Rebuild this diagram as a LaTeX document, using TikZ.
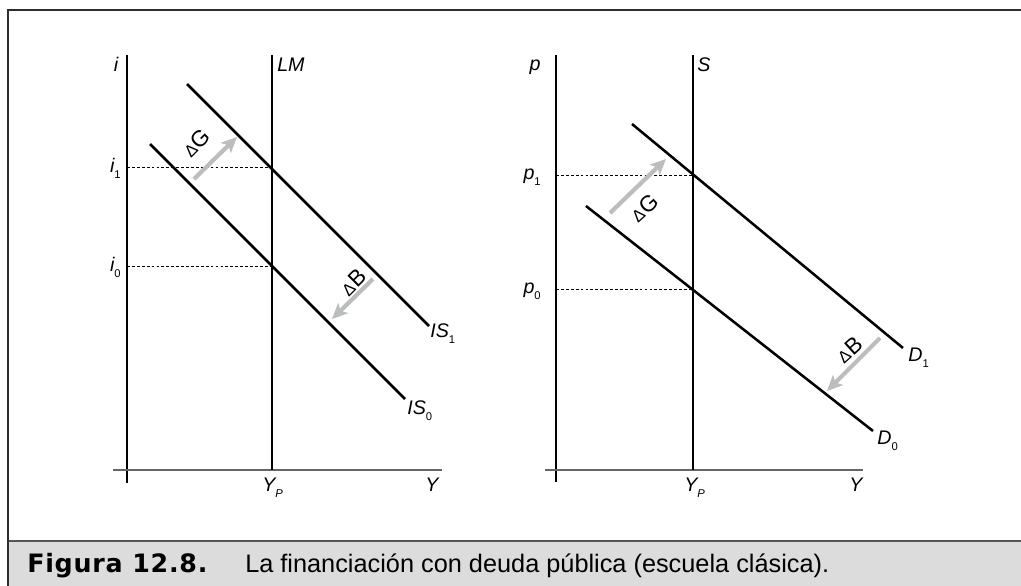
\documentclass[tikz,border=0pt]{standalone}
\usepackage{fontspec}
\setmainfont{Liberation Sans}
\newfontfamily\capbold[LetterSpace=3]{DejaVu Sans}
\usepackage{tikz}
\usetikzlibrary{positioning, arrows.meta}
\definecolor{frameLine}{HTML}{2E2E2E}
\definecolor{capFill}{HTML}{DCDCDD}
\definecolor{capLine}{HTML}{555555}
\definecolor{axisGray}{HTML}{666666}
\definecolor{shiftGray}{HTML}{BCBDBF}
\newcommand{\sbs}[1]{\raisebox{-0.6ex}{\fontsize{8}{8}\selectfont #1}}
\newcommand{\dlt}{{\fontsize{12}{12}\selectfont Δ}\kern0.5pt}

\begin{document}
\begin{tikzpicture}[x=0.025cm, y=-0.025cm, curve/.style={line width=1.8pt}, ax/.style={line width=0.9pt}, xax/.style={line width=1.5pt, color=axisGray}, guide/.style={line width=0.6pt, dash pattern=on 2pt off 1.5pt}, lbl/.style={font=\fontsize{14}{16}\selectfont\itshape, inner sep=0pt}, shiftarrow/.style={line width=3pt, color=shiftGray, -{Stealth[length=11pt, width=10pt, inset=2.5pt]}}, dlbl/.style={font=\fontsize{16}{18}\selectfont, inner sep=0pt}]
\useasboundingbox (0,0) rectangle (1021,586);
\fill[capFill] (8,541) rectangle (1030,595);
\draw[line width=1pt, color=capLine] (8,541) -- (1030,541);
\draw[line width=1.5pt, color=frameLine] (8,595) -- (8,10) -- (1030,10);
\node[anchor=base west, inner sep=0pt, font=\fontsize{18}{21}\selectfont\capbold\bfseries] (capnum) at (27,572) {Figura 12.8.};
\node[anchor=base west, inner sep=0pt, font=\fontsize{18}{21}\selectfont] (captxt) at (245,572) {La financiación con deuda pública (escuela clásica).};
% IS-LM
\coordinate (iTop) at (127,55); \coordinate (iBot) at (127,483);
\coordinate (yL) at (113,470); \coordinate (yR) at (442,470);
\coordinate (lmTop) at (272,55); \coordinate (lmBot) at (272,470);
\coordinate (isOneA) at (187,84); \coordinate (isOneB) at (429,326);
\coordinate (isZeroA) at (150,144); \coordinate (isZeroB) at (405,399);
\coordinate (iOneA) at (127,167); \coordinate (iOneB) at (272,167);
\coordinate (iZeroA) at (127,266); \coordinate (iZeroB) at (272,266);
\draw[ax] (iTop) -- (iBot);
\draw[xax] (yL) -- (yR);
\draw[line width=2.1pt] (lmTop) -- (lmBot);
\draw[guide] (iOneA) -- (iOneB);
\draw[guide] (iZeroA) -- (iZeroB);
\draw[curve] (isOneA) -- (isOneB);
\draw[curve] (isZeroA) -- (isZeroB);
\node[lbl, anchor=base] (iAx) at (116,71) {i};
\node[lbl, anchor=base west] (lmLbl) at (277,71) {LM};
\node[lbl, anchor=base east] (iOne) at (121,172) {i\sbs{\upshape 1}};
\node[lbl, anchor=base east] (iZero) at (121,271) {i\sbs{\upshape 0}};
\node[lbl, anchor=base west] (isOne) at (430,337) {IS\sbs{\upshape 1}};
\node[lbl, anchor=base west] (isZero) at (407,414) {IS\sbs{\upshape 0}};
\node[lbl, anchor=base west] (ypL) at (262,491) {Y\sbs{P}};
\node[lbl, anchor=base] (yLblL) at (432,491) {Y};
\coordinate (dgLa) at (194,179); \coordinate (dgLb) at (237,137);
\coordinate (dbLa) at (373,279); \coordinate (dbLb) at (332,319);
\draw[shiftarrow] (dgLa) -- (dgLb);
\draw[shiftarrow] (dbLa) -- (dbLb);
\node[dlbl, rotate=45] (dgL) at (196,143) {\dlt G};
\node[dlbl, rotate=45] (dbL) at (353,282) {\dlt B};
% oferta-demanda
\coordinate (pTop) at (556,55); \coordinate (pBot) at (556,482);
\coordinate (xL) at (545,470); \coordinate (xR) at (863,470);
\coordinate (sTop) at (693,55); \coordinate (sBot) at (693,470);
\coordinate (dOneA) at (632,124); \coordinate (dOneB) at (903,348);
\coordinate (dZeroA) at (586,206); \coordinate (dZeroB) at (873,431);
\coordinate (pOneA) at (556,175); \coordinate (pOneB) at (693,175);
\coordinate (pZeroA) at (556,289); \coordinate (pZeroB) at (693,289);
\draw[ax] (pTop) -- (pBot);
\draw[xax] (xL) -- (xR);
\draw[ax] (sTop) -- (sBot);
\draw[guide] (pOneA) -- (pOneB);
\draw[guide] (pZeroA) -- (pZeroB);
\draw[curve] (dOneA) -- (dOneB);
\draw[curve] (dZeroA) -- (dZeroB);
\node[lbl, anchor=base] (pAx) at (535,70) {p};
\node[lbl, anchor=base west] (sLbl) at (697,71) {S};
\node[lbl, anchor=base east] (pOne) at (541,179) {p\sbs{\upshape 1}};
\node[lbl, anchor=base east] (pZero) at (541,293) {p\sbs{\upshape 0}};
\node[lbl, anchor=base west] (dOne) at (908,361) {D\sbs{\upshape 1}};
\node[lbl, anchor=base west] (dZero) at (877,444) {D\sbs{\upshape 0}};
\node[lbl, anchor=base west] (ypR) at (684,491) {Y\sbs{P}};
\node[lbl, anchor=base] (yLblR) at (856,491) {Y};
\coordinate (dgRa) at (610,213); \coordinate (dgRb) at (666,159);
\coordinate (dbRa) at (880,338); \coordinate (dbRb) at (827,391);
\draw[shiftarrow] (dgRa) -- (dgRb);
\draw[shiftarrow] (dbRa) -- (dbRb);
\node[dlbl, rotate=42] (dgR) at (644,208) {\dlt G};
\node[dlbl, rotate=42] (dbR) at (849,350) {\dlt B};
\end{tikzpicture}
\end{document}
